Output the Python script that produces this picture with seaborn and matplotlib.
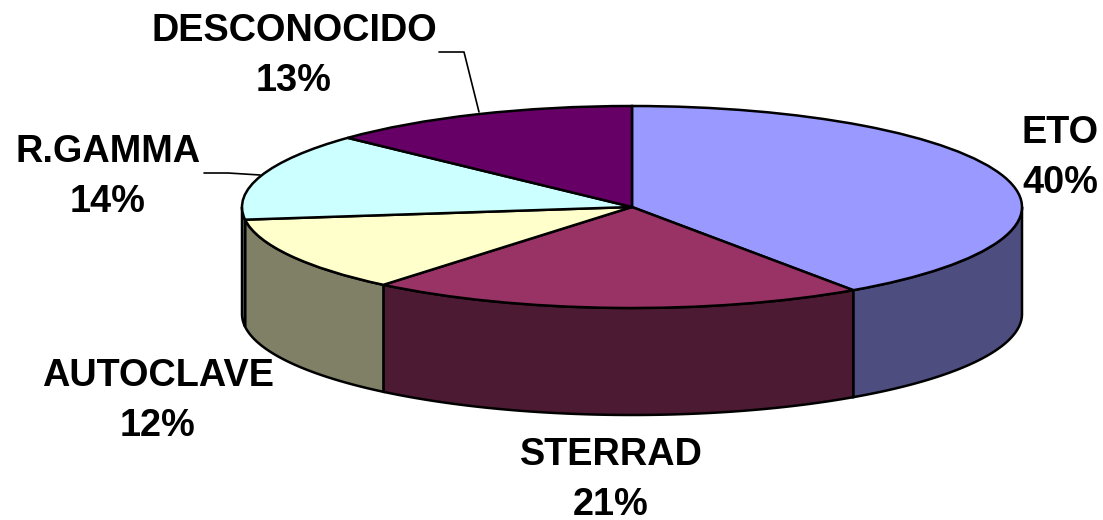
import numpy as np
import matplotlib
matplotlib.use('Agg')
import matplotlib.pyplot as plt
import seaborn as sns

categories = ['ETO', 'STERRAD', 'AUTOCLAVE', 'R.GAMMA', 'DESCONOCIDO']
shares = [40.4, 20.6, 12, 14, 13]
top_colors = ['#9999FF', '#993366', '#FFFFCC', '#CCFFFF', '#660066']
side_colors = ['#4D4D80', '#4D1A33', '#808066', '#668080', '#330033']

sns.set_theme(style='white')
plt.rcParams['font.family'] = ['Liberation Sans', 'DejaVu Sans']

W, H = 1103, 520
cx, cy = 632, 207      # centre of the top ellipse, pixels
rx, ry = 390, 101      # radii of the ellipse, pixels
depth = 107            # height of the wall, pixels
edge_lw = 1.8


def px(x, y):
    # pixel position in the picture -> pie units
    return (x - cx) / rx, (cy - y) / ry


fig = plt.figure(figsize=(W / 100, H / 100), dpi=100)
ax = fig.add_axes([0, 0, 1, 1])

# wall first, only the front half (below the horizontal) can be seen
d = depth / ry
edges = np.cumsum([0] + shares) / sum(shares) * 360
for i in range(len(shares)):
    a0, a1 = max(edges[i], 90), min(edges[i + 1], 270)  # clockwise from 12 o'clock
    if a1 <= a0:
        continue
    t = np.radians(np.linspace(a0, a1, 80))
    x = np.sin(t)
    y = np.cos(t)
    ax.fill(np.r_[x, x[::-1]], np.r_[y, y[::-1] - d], facecolor=side_colors[i],
            edgecolor='black', linewidth=edge_lw, zorder=1)

# top of the pie
ax.pie(shares, colors=top_colors, startangle=90, counterclock=False, radius=1,
       wedgeprops={'edgecolor': 'black', 'linewidth': edge_lw, 'zorder': 2})
ax.set_aspect('auto')
x0, _ = px(0, 0)
x1, _ = px(W, 0)
_, y0 = px(0, H)
_, y1 = px(0, 0)
ax.set_xlim(x0, x1)
ax.set_ylim(y0, y1)
ax.axis('off')

# labels
label_pos = [(1060, 158), (611, 480), (158, 401), (108, 177), (294, 56)]
for name, share, (lx, ly) in zip(categories, shares, label_pos):
    tx, ty = px(lx, ly)
    ax.text(tx, ty, f'{name}\n{round(share)}%', ha='center', va='center', fontsize=27.3,
            fontweight='bold', color='black', linespacing=1.48, zorder=4)

# leader lines
for pts in ([(439, 52), (464, 52), (479, 112)], [(204, 173), (228, 173), (260, 175)]):
    lx, ly = zip(*[px(*p) for p in pts])
    ax.plot(lx, ly, color='black', linewidth=1.2, zorder=3)

fig.savefig('out.png', dpi=100, facecolor='white')
